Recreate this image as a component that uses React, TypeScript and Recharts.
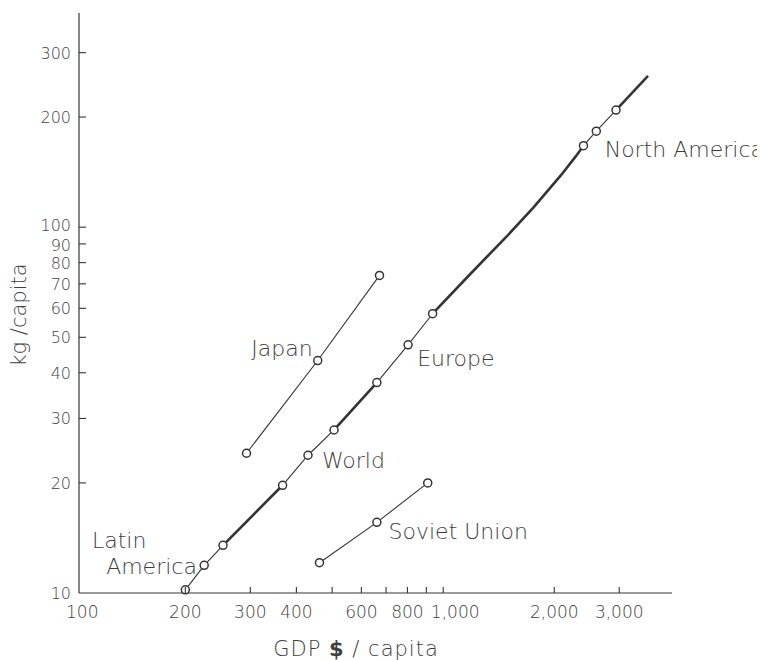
import React from 'react';
import { ComposedChart, Line, Scatter, XAxis, YAxis } from 'recharts';

// ---- data (GDP $/capita vs kg/capita, log-log) ----
const latinAmerica = [
  { x: 200, y: 10.2 },
  { x: 225, y: 11.9 },
  { x: 253, y: 13.5 },
];
const world = [
  { x: 367, y: 19.7 },
  { x: 430, y: 23.8 },
  { x: 506, y: 27.9 },
  { x: 661, y: 37.6 },
];
const europe = [
  { x: 803, y: 47.7 },
  { x: 936, y: 58 },
];
const northAmerica = [
  { x: 2400, y: 167 },
  { x: 2600, y: 183 },
  { x: 2940, y: 209 },
];
const japan = [
  { x: 293, y: 24.1 },
  { x: 457, y: 43.2 },
  { x: 672, y: 73.8 },
];
const sovietUnion = [
  { x: 462, y: 12.1 },
  { x: 661, y: 15.6 },
  { x: 908, y: 20 },
];
// thick trend segments of the main curve
const trendA = [
  { x: 253, y: 13.5 },
  { x: 367, y: 19.7 },
];
const trendB = [
  { x: 506, y: 27.9 },
  { x: 661, y: 37.6 },
];
const trendC = [
  { x: 936, y: 58 },
  { x: 1186, y: 74.6 },
  { x: 1500, y: 95.3 },
  { x: 1760, y: 113.5 },
  { x: 2086, y: 138.7 },
  { x: 2292, y: 156.6 },
  { x: 2400, y: 167 },
];
const trendD = [
  { x: 2940, y: 209 },
  { x: 3590, y: 259 },
];
const worldEurope = [...world, ...europe];

const seriesLabels = [
  { x: 302, y: 44.5, text: 'Japan' },
  { x: 850, y: 41.7, text: 'Europe' },
  { x: 469, y: 21.9, text: 'World' },
  { x: 711, y: 14.05, text: 'Soviet Union' },
  { x: 111.7, y: 13.25, text: 'Latin' },
  { x: 122, y: 11.3, text: 'America' },
  { x: 2740, y: 156, text: 'North America' },
];

const xTicks = [100, 200, 300, 400, 500, 600, 700, 800, 900, 1000, 2000, 3000];
const xTickLabels: Record<number, string> = {
  100: '100', 200: '200', 300: '300', 400: '400', 600: '600', 800: '800',
  1000: '1,000', 2000: '2,000', 3000: '3,000',
};
const yTicks = [10, 20, 30, 40, 50, 60, 70, 80, 90, 100, 200, 300];

const FONT = '"DejaVu Sans", sans-serif';
const INK = '#343434';
const TEXT = '#3e3e3e';

const XTick = (props: any) => {
  const { x, y, payload } = props;
  const v = payload.value;
  const label = xTickLabels[v];
  const dx = v === 100 ? 8 : v === 1000 ? 12 : 0;
  return (
    <g>
      {v !== 100 && <line x1={x} y1={y} x2={x} y2={y - 6} stroke={INK} strokeWidth={1.1} />}
      {label && (
        <text x={x + dx} y={y + 25} textAnchor="middle" fontFamily={FONT} fontWeight={300} fontSize={17} fill={TEXT}>
          {label}
        </text>
      )}
    </g>
  );
};

const YTick = (props: any) => {
  const { x, y, payload } = props;
  const v = payload.value;
  const dy = v === 100 ? -2 : v === 90 ? 1 : 0;
  return (
    <g>
      {v !== 10 && <line x1={x} y1={y} x2={x + 7} y2={y} stroke={INK} strokeWidth={1.1} />}
      <text x={x - 8} y={y + 6 + dy} textAnchor="end" fontFamily={FONT} fontWeight={300} fontSize={16} fill={TEXT}>
        {v}
      </text>
    </g>
  );
};

const OpenDot = (props: any) => {
  const { cx, cy } = props;
  if (cx == null || cy == null) return null;
  return <circle cx={cx} cy={cy} r={4} fill="#fff" stroke={INK} strokeWidth={1.5} />;
};

const LabelShape = (props: any) => {
  const { cx, cy, payload } = props;
  return (
    <text x={cx} y={cy} fontFamily={FONT} fontWeight={300} fontSize={22} fill={TEXT}>
      {payload.text}
    </text>
  );
};

export default function App() {
  return (
    <div style={{ width: 757, height: 652, background: '#fff' }}>
      <ComposedChart width={757} height={652} margin={{ top: 5, right: 93, bottom: 0, left: 0 }}>
        <XAxis
          dataKey="x"
          type="number"
          scale="log"
          domain={[103, 4170]}
          ticks={xTicks}
          interval={0}
          tick={<XTick />}
          tickLine={false}
          tickSize={0}
          tickMargin={0}
          height={67}
          axisLine={{ stroke: INK, strokeWidth: 1.2 }}
        />
        <YAxis
          dataKey="y"
          type="number"
          scale="log"
          domain={[10, 385]}
          ticks={yTicks}
          interval={0}
          tick={<YTick />}
          tickLine={false}
          tickSize={0}
          tickMargin={0}
          width={71}
          axisLine={{ stroke: INK, strokeWidth: 1.2 }}
        />
        <Line data={trendA} dataKey="y" stroke={INK} strokeWidth={2.6} dot={false} isAnimationActive={false} />
        <Line data={trendB} dataKey="y" stroke={INK} strokeWidth={2.6} dot={false} isAnimationActive={false} />
        <Line data={trendC} dataKey="y" stroke={INK} strokeWidth={2.6} dot={false} isAnimationActive={false} />
        <Line data={trendD} dataKey="y" stroke={INK} strokeWidth={2.6} dot={false} isAnimationActive={false} />
        <Line data={latinAmerica} dataKey="y" stroke={INK} strokeWidth={1.1} dot={<OpenDot />} isAnimationActive={false} />
        <Line data={worldEurope} dataKey="y" stroke={INK} strokeWidth={1.1} dot={<OpenDot />} isAnimationActive={false} />
        <Line data={northAmerica} dataKey="y" stroke={INK} strokeWidth={1.1} dot={<OpenDot />} isAnimationActive={false} />
        <Line data={japan} dataKey="y" stroke={INK} strokeWidth={1.1} dot={<OpenDot />} isAnimationActive={false} />
        <Line data={sovietUnion} dataKey="y" stroke={INK} strokeWidth={1.1} dot={<OpenDot />} isAnimationActive={false} />
        <Scatter data={seriesLabels} dataKey="y" shape={<LabelShape />} isAnimationActive={false} />
        <text x={18} y={307} transform="rotate(-90, 18, 307)" textAnchor="middle" fontFamily={FONT} fontWeight={300} fontSize={21} fill={TEXT}>
          kg /capita
        </text>
        <text x={348} y={648} textAnchor="middle" fontFamily={FONT} fontWeight={300} fontSize={21} fill={TEXT} letterSpacing={1}>
          GDP <tspan fontWeight={700}>$</tspan> / capita
        </text>
      </ComposedChart>
    </div>
  );
}
